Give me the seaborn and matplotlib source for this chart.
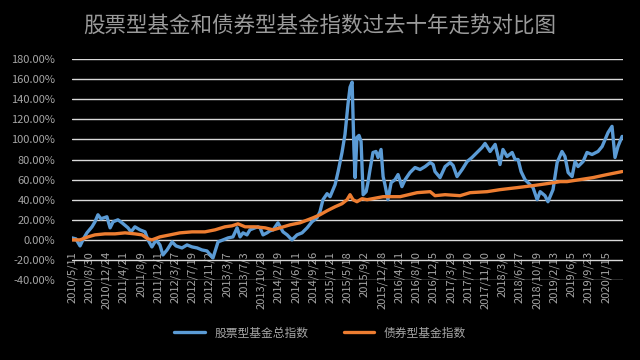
import pandas as pd
import numpy as np
import matplotlib
matplotlib.use("Agg")
import matplotlib.pyplot as plt
from matplotlib.ticker import PercentFormatter
import seaborn as sns

# 交易日序号 (第几个交易日) 与指数涨幅(%)
stock_day = [0, 17, 35, 52, 65, 87, 100, 113, 126, 139, 152, 166, 179, 200, 218, 244, 257, 274, 296, 318,
             331, 348, 366, 383, 396, 414, 436, 453, 479, 501, 523, 545, 566, 588, 614, 636, 658, 680, 701, 719,
             732, 745, 762, 775, 797, 810, 819, 832, 849, 862, 876, 897, 919, 937, 958, 980, 1002, 1024, 1045, 1067,
             1080, 1093, 1111, 1124, 1137, 1146, 1159, 1176, 1189, 1202, 1211, 1220, 1224, 1228, 1233, 1241, 1250, 1259, 1268, 1281,
             1289, 1298, 1311, 1324, 1333, 1346, 1355, 1363, 1376, 1390, 1407, 1420, 1437, 1451, 1472, 1494, 1516, 1538, 1560, 1573,
             1581, 1603, 1625, 1647, 1660, 1677, 1699, 1721, 1742, 1764, 1786, 1799, 1821, 1843, 1864, 1877, 1895, 1917, 1930, 1943,
             1956, 1973, 1995, 2008, 2026, 2039, 2060, 2073, 2095, 2113, 2134, 2147, 2161, 2178, 2191, 2204, 2226, 2243, 2265, 2291,
             2309, 2322, 2335, 2352, 2365, 2378, 2396]
stock_val = [2, 1, -6, 2, 7, 13, 18, 25, 21, 22, 23, 12, 18, 20, 17, 12, 8, 13, 10, 8,
             0, -7, 0, -5, -15, -10, -2, -6, -8, -5, -7, -8, -10, -11, -18, -2, 0, 2, 3, 12,
             3, 7, 5, 10, 12, 13, 12, 5, 7, 9, 10, 17, 8, 5, 0, 5, 7, 12, 18, 22,
             28, 40, 46, 43, 50, 55, 68, 87, 105, 135, 152, 157, 125, 90, 62, 102, 104, 98, 45, 48,
             57, 70, 87, 88, 82, 90, 63, 55, 40, 57, 60, 65, 53, 60, 67, 72, 70, 73, 77, 75,
             68, 62, 73, 77, 74, 63, 70, 78, 82, 87, 92, 96, 88, 95, 75, 90, 83, 87, 80, 80,
             68, 60, 55, 52, 40, 48, 44, 38, 50, 77, 88, 83, 67, 63, 78, 73, 78, 87, 85, 88,
             93, 100, 107, 113, 82, 93, 103]

bond_day = [0, 35, 70, 100, 144, 187, 231, 274, 305, 331, 348, 383, 427, 470, 523, 579, 623, 666, 697, 723,
            754, 797, 841, 876, 906, 950, 993, 1050, 1080, 1111, 1146, 1176, 1198, 1211, 1224, 1241, 1263, 1285, 1355, 1429,
            1503, 1560, 1581, 1625, 1690, 1734, 1808, 1864, 1938, 2008, 2069, 2126, 2156, 2213, 2269, 2330, 2396]
bond_val = [0, 0, 3, 5, 6, 6, 7, 6, 5, 1, 0, 3, 5, 7, 8, 8, 10, 13, 14, 16,
            13, 13, 12, 10, 12, 15, 17, 22, 25, 29, 33, 36, 40, 45, 40, 38, 41, 40, 43, 43,
            47, 48, 44, 45, 44, 47, 48, 50, 52, 54, 56, 58, 58, 60, 62, 65, 68]

tick_labels = ["2010/5/11", "2010/8/30", "2010/12/24", "2011/4/21", "2011/8/9", "2011/12/1", "2012/3/27",
               "2012/7/19", "2012/11/2", "2013/3/7", "2013/7/3", "2013/10/28", "2014/2/19", "2014/6/11",
               "2014/9/26", "2015/1/21", "2015/5/18", "2015/9/2", "2015/12/28", "2016/4/21", "2016/8/10",
               "2016/12/5", "2017/3/29", "2017/7/20", "2017/11/10", "2018/3/6", "2018/6/27", "2018/10/19",
               "2019/2/13", "2019/6/5", "2019/9/23", "2020/1/15"]
tick_step = 75

stock = pd.DataFrame({"day": stock_day, "val": stock_val})
bond = pd.DataFrame({"day": bond_day, "val": bond_val})

sns.set_style("dark", {"axes.facecolor": "black", "figure.facecolor": "black"})
plt.rcParams["font.family"] = ["Noto Sans CJK SC", "DejaVu Sans"]
plt.rcParams["axes.unicode_minus"] = False

gray = "#a6a6a6"
fig = plt.figure(figsize=(6.4, 3.6), dpi=100)
ax = fig.add_axes([0.1125, 0.222, 0.861, 0.614])
ax.set_facecolor("black")

sns.lineplot(data=stock, x="day", y="val", color="#5B9BD5", linewidth=2.4, label="股票型基金总指数", ax=ax)
sns.lineplot(data=bond, x="day", y="val", color="#ED7D31", linewidth=2.4, label="债券型基金指数", ax=ax)

# 横轴放在 0% 处 (先设位置, 否则会重置刻度标签样式)
ax.spines["bottom"].set_position(("data", 0))
for s in ax.spines.values():
    s.set_visible(False)

ax.set_ylim(-40, 180)
ax.set_yticks(np.arange(-40, 181, 20))
ax.yaxis.set_major_formatter(PercentFormatter(xmax=100, decimals=2))
ax.set_xlim(0, 2400)
ax.set_xticks(np.arange(len(tick_labels)) * tick_step)
ax.set_xticklabels(tick_labels, rotation=90, va="top", ha="center")
ax.tick_params(axis="x", length=0, pad=8, labelsize=8, labelcolor=gray)
ax.tick_params(axis="y", length=0, pad=12, labelsize=8, labelcolor=gray)
ax.grid(axis="y", color="#d9d9d9", linewidth=1)
ax.grid(axis="x", visible=False)
ax.set_xlabel("")
ax.set_ylabel("")

ax.get_legend().remove()
h, l = ax.get_legend_handles_labels()
leg = fig.legend(h, l, loc="center", bbox_to_anchor=(0.5, 0.075), ncol=2, frameon=False,
                 fontsize=8.5, handlelength=2.6, columnspacing=3.0, labelcolor=gray)

fig.text(0.5, 0.93, "股票型基金和债券型基金指数过去十年走势对比图", ha="center", va="center",
         fontsize=15.5, color="#9a9a9a")

fig.savefig("out.png", dpi=100, facecolor="black")
